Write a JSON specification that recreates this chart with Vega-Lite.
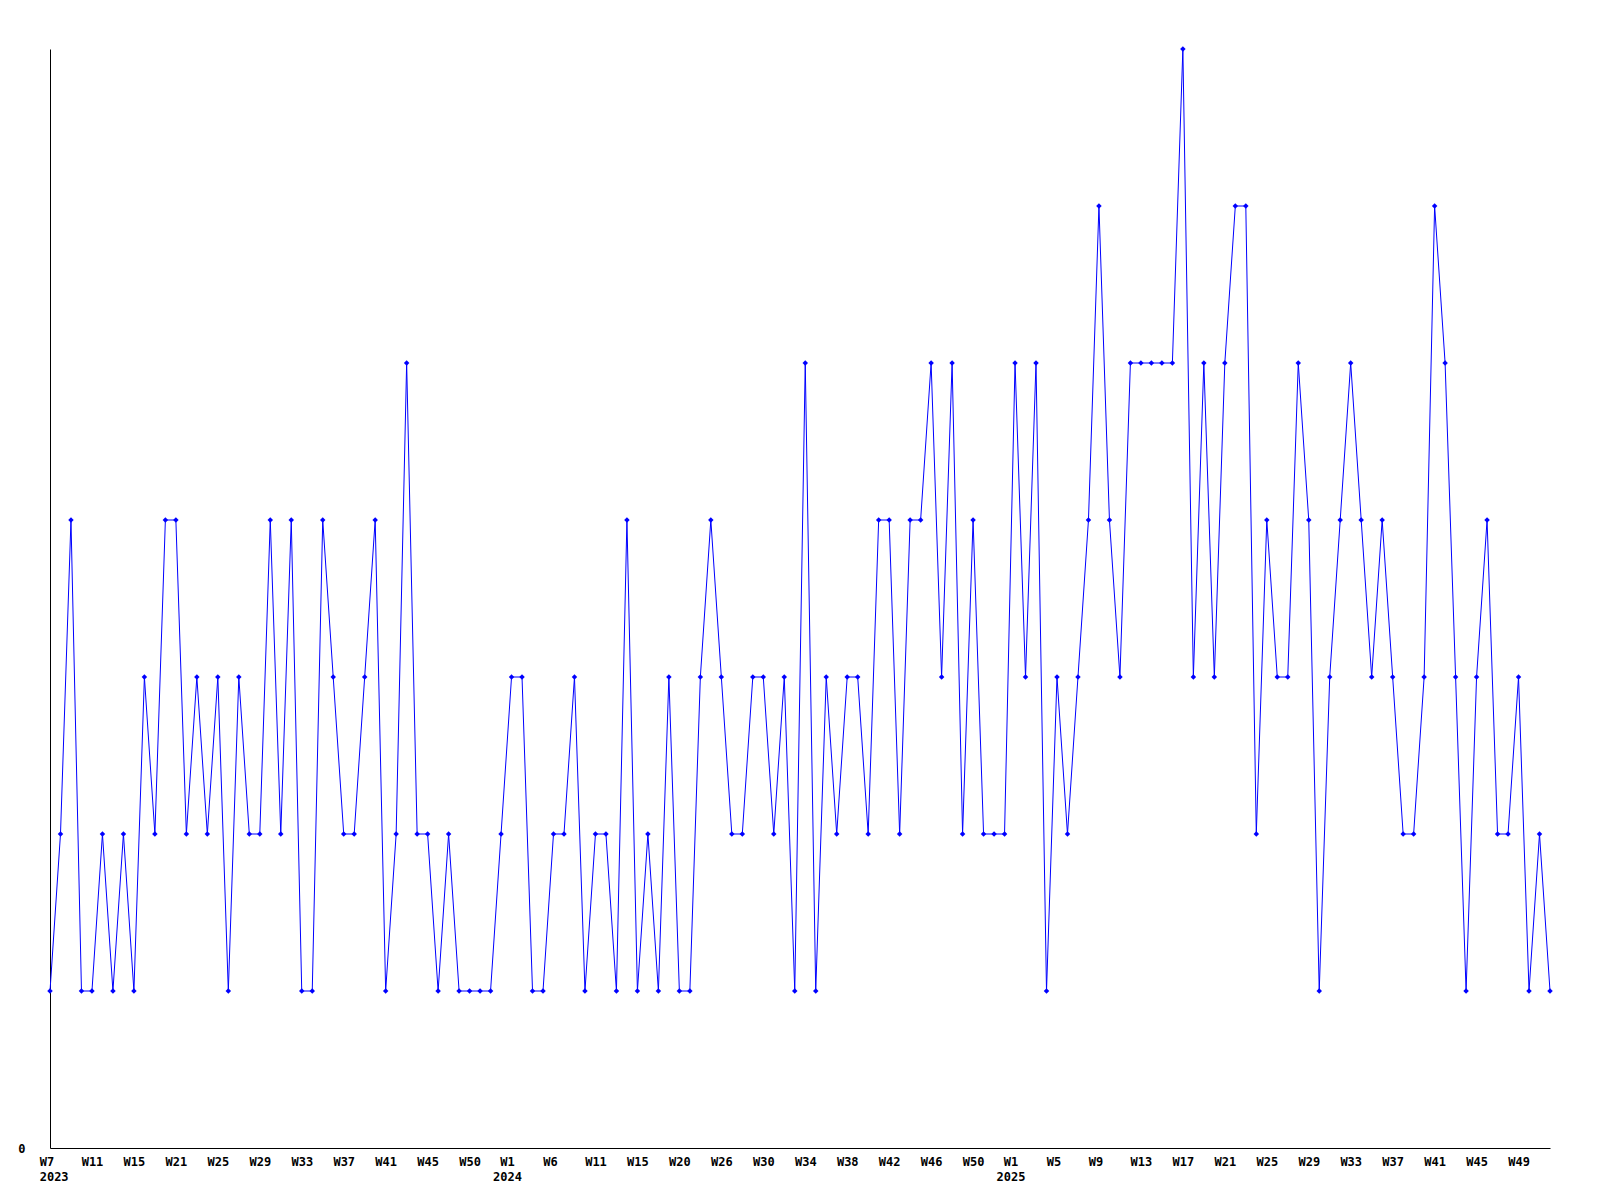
{
  "$schema": "https://vega.github.io/schema/vega-lite/v6.json",
  "width": 1500,
  "height": 1099,
  "autosize": "none",
  "padding": {"left": 50, "top": 49, "right": 50, "bottom": 52},
  "background": "white",
  "config": {"view": {"stroke": null}},
  "data": {"values": [
    {"i":0,"v":1},{"i":1,"v":2},{"i":2,"v":4},{"i":3,"v":1},{"i":4,"v":1},{"i":5,"v":2},{"i":6,"v":1},{"i":7,"v":2},{"i":8,"v":1},{"i":9,"v":3},
    {"i":10,"v":2},{"i":11,"v":4},{"i":12,"v":4},{"i":13,"v":2},{"i":14,"v":3},{"i":15,"v":2},{"i":16,"v":3},{"i":17,"v":1},{"i":18,"v":3},{"i":19,"v":2},
    {"i":20,"v":2},{"i":21,"v":4},{"i":22,"v":2},{"i":23,"v":4},{"i":24,"v":1},{"i":25,"v":1},{"i":26,"v":4},{"i":27,"v":3},{"i":28,"v":2},{"i":29,"v":2},
    {"i":30,"v":3},{"i":31,"v":4},{"i":32,"v":1},{"i":33,"v":2},{"i":34,"v":5},{"i":35,"v":2},{"i":36,"v":2},{"i":37,"v":1},{"i":38,"v":2},{"i":39,"v":1},
    {"i":40,"v":1},{"i":41,"v":1},{"i":42,"v":1},{"i":43,"v":2},{"i":44,"v":3},{"i":45,"v":3},{"i":46,"v":1},{"i":47,"v":1},{"i":48,"v":2},{"i":49,"v":2},
    {"i":50,"v":3},{"i":51,"v":1},{"i":52,"v":2},{"i":53,"v":2},{"i":54,"v":1},{"i":55,"v":4},{"i":56,"v":1},{"i":57,"v":2},{"i":58,"v":1},{"i":59,"v":3},
    {"i":60,"v":1},{"i":61,"v":1},{"i":62,"v":3},{"i":63,"v":4},{"i":64,"v":3},{"i":65,"v":2},{"i":66,"v":2},{"i":67,"v":3},{"i":68,"v":3},{"i":69,"v":2},
    {"i":70,"v":3},{"i":71,"v":1},{"i":72,"v":5},{"i":73,"v":1},{"i":74,"v":3},{"i":75,"v":2},{"i":76,"v":3},{"i":77,"v":3},{"i":78,"v":2},{"i":79,"v":4},
    {"i":80,"v":4},{"i":81,"v":2},{"i":82,"v":4},{"i":83,"v":4},{"i":84,"v":5},{"i":85,"v":3},{"i":86,"v":5},{"i":87,"v":2},{"i":88,"v":4},{"i":89,"v":2},
    {"i":90,"v":2},{"i":91,"v":2},{"i":92,"v":5},{"i":93,"v":3},{"i":94,"v":5},{"i":95,"v":1},{"i":96,"v":3},{"i":97,"v":2},{"i":98,"v":3},{"i":99,"v":4},
    {"i":100,"v":6},{"i":101,"v":4},{"i":102,"v":3},{"i":103,"v":5},{"i":104,"v":5},{"i":105,"v":5},{"i":106,"v":5},{"i":107,"v":5},{"i":108,"v":7},{"i":109,"v":3},
    {"i":110,"v":5},{"i":111,"v":3},{"i":112,"v":5},{"i":113,"v":6},{"i":114,"v":6},{"i":115,"v":2},{"i":116,"v":4},{"i":117,"v":3},{"i":118,"v":3},{"i":119,"v":5},
    {"i":120,"v":4},{"i":121,"v":1},{"i":122,"v":3},{"i":123,"v":4},{"i":124,"v":5},{"i":125,"v":4},{"i":126,"v":3},{"i":127,"v":4},{"i":128,"v":3},{"i":129,"v":2},
    {"i":130,"v":2},{"i":131,"v":3},{"i":132,"v":6},{"i":133,"v":5},{"i":134,"v":3},{"i":135,"v":1},{"i":136,"v":3},{"i":137,"v":4},{"i":138,"v":2},{"i":139,"v":2},
    {"i":140,"v":3},{"i":141,"v":1},{"i":142,"v":2},{"i":143,"v":1}
  ]},
  "encoding": {
    "x": {
      "field": "i", "type": "quantitative",
      "scale": {"domain": [0, 143], "nice": false, "zero": false},
      "axis": {
        "title": null, "grid": false, "ticks": false, "tickSize": 0,
        "domainColor": "black", "domainWidth": 1,
        "labelFont": "DejaVu Sans Mono", "labelFontWeight": "bold", "labelFontSize": 12,
        "labelColor": "black", "labelPadding": 8, "labelLineHeight": 15,
        "labelOverlap": false, "labelFlush": false, "labelBound": false,
        "labelAlign": {"expr": "datum.value == 44 || datum.value == 92 ? 'center' : 'left'"},
        "labelOffset": {"expr": "datum.value == 44 || datum.value == 92 ? -4.5 : -10.8"},
        "values": [0,4,8,12,16,20,24,28,32,36,40,44,48,52,56,60,64,68,72,76,80,84,88,92,96,100,104,108,112,116,120,124,128,132,136,140],
        "labelExpr": "[['W7','2023'],'W11','W15','W21','W25','W29','W33','W37','W41','W45','W50',['W1','2024'],'W6','W11','W15','W20','W26','W30','W34','W38','W42','W46','W50',['W1','2025'],'W5','W9','W13','W17','W21','W25','W29','W33','W37','W41','W45','W49'][datum.value / 4]"
      }
    },
    "y": {
      "field": "v", "type": "quantitative",
      "scale": {"domain": [0, 7], "nice": false, "zero": true},
      "axis": {
        "title": null, "grid": false, "ticks": false, "tickSize": 0,
        "values": [0],
        "domainColor": "black", "domainWidth": 1,
        "labelFont": "DejaVu Sans Mono", "labelFontWeight": "bold", "labelFontSize": 12,
        "labelColor": "black", "labelPadding": 25, "labelBaseline": "middle"
      }
    }
  },
  "layer": [
    {"mark": {"type": "line", "color": "#0000ff", "strokeWidth": 1, "interpolate": "linear"}},
    {"mark": {"type": "point", "shape": "diamond", "filled": true, "color": "#0000ff", "size": 30, "opacity": 1}}
  ]
}
